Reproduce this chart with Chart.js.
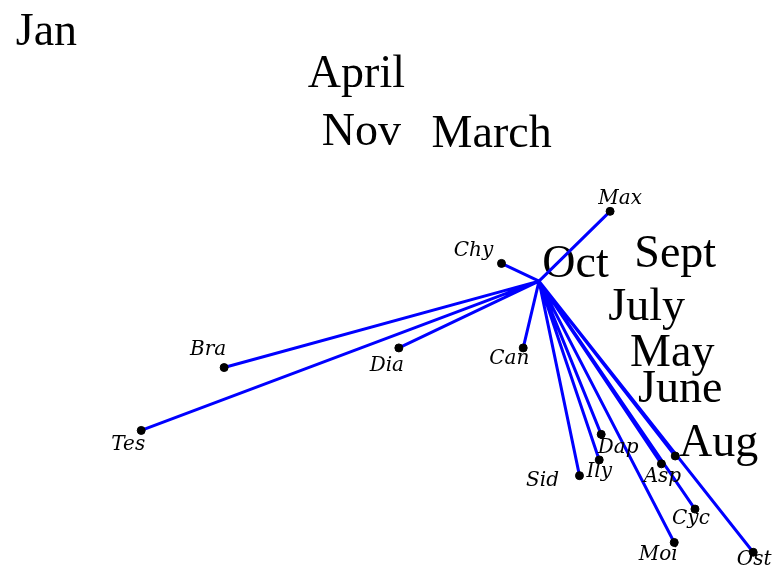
<!DOCTYPE html>
<html>
<head>
<meta charset="utf-8">
<script src="https://cdn.jsdelivr.net/npm/chart.js@4/dist/chart.umd.min.js"></script>
<style>
  body { margin: 0; background: #fff; }
  #wrap { width: 774px; height: 573px; }
</style>
</head>
<body>
<div id="wrap"><canvas id="biplot"></canvas></div>
<script>
// months (sample scores)
var months = ["Jan", "April", "Nov", "March", "Oct", "Sept", "July", "May", "June", "Aug"];
var monthX = [-2.495, -0.925, -0.90, -0.24, 0.185, 0.69, 0.545, 0.675, 0.715, 0.91];
var monthY = [1.27, 1.055, 0.76, 0.75, 0.085, 0.14, -0.13, -0.365, -0.55, -0.825];

// species (arrow tips)
var species = ["Max", "Chy", "Bra", "Tes", "Dia", "Can", "Sid", "Ily", "Dap", "Asp", "Cyc", "Moi", "Ost", ""];
var specX = [0.36, -0.19, -1.595, -2.015, -0.71, -0.08, 0.205, 0.305, 0.315, 0.62, 0.79, 0.685, 1.085, 0.69];
var specY = [0.355, 0.09, -0.44, -0.76, -0.34, -0.34, -0.99, -0.91, -0.78, -0.93, -1.16, -1.33, -1.38, -0.89];

// where the species labels sit next to their dot (pixels)
var labelDx = [10, -28, -16, -13, -12, -14, -37, 0, 17, 1, -4, -16, 1, 0];
var labelDy = [-13, -13, -18, 14, 18, 11, 5, 12, 13, 13, 10, 12, 8, 0];

var segs = [];
var tips = [];
for (var i = 0; i < species.length; i++) {
  segs.push({x: 0, y: 0});
  segs.push({x: specX[i], y: specY[i]});
  tips.push({x: specX[i], y: specY[i]});
}
var monthPts = months.map(function(m, i){ return {x: monthX[i], y: monthY[i]}; });

var textPlugin = {
  id: 'texts',
  beforeDatasetsDraw: function(chart){
    var ctx = chart.ctx;
    var meta = chart.getDatasetMeta(2);
    ctx.save();
    ctx.fillStyle = '#000';
    ctx.font = '46px "Liberation Serif"';
    ctx.textAlign = 'center';
    ctx.textBaseline = 'middle';
    meta.data.forEach(function(el, i){
      ctx.fillText(months[i], el.x, el.y + 1);
    });
    ctx.restore();
  },
  afterDatasetsDraw: function(chart){
    var ctx = chart.ctx;
    var meta = chart.getDatasetMeta(0);
    ctx.save();
    ctx.fillStyle = '#000';
    ctx.font = 'italic 20px "DejaVu Serif"';
    ctx.textAlign = 'center';
    ctx.textBaseline = 'middle';
    meta.data.forEach(function(el, i){
      if (species[i]) ctx.fillText(species[i], el.x + labelDx[i], el.y + labelDy[i]);
    });
    ctx.restore();
  }
};

new Chart(document.getElementById('biplot'), {
  type: 'scatter',
  data: {
    datasets: [
      {
        data: tips,
        backgroundColor: '#000',
        borderColor: '#000',
        pointRadius: 4,
        order: 0
      },
      {
        data: segs,
        showLine: true,
        borderColor: '#0000ff',
        borderWidth: 3,
        borderJoinStyle: 'round',
        pointRadius: 0,
        order: 1
      },
      {
        data: monthPts,
        pointRadius: 0,
        order: 2
      }
    ]
  },
  options: {
    responsive: true,
    maintainAspectRatio: false,
    animation: false,
    layout: { padding: 0 },
    plugins: { legend: { display: false }, tooltip: { enabled: false } },
    scales: {
      x: { type: 'linear', display: false, min: -2.705, max: 1.165 },
      y: { type: 'linear', display: false, min: -1.46, max: 1.405 }
    }
  },
  plugins: [textPlugin]
});
</script>
</body>
</html>
